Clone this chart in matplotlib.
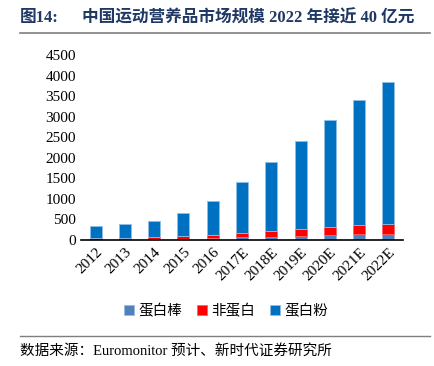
import matplotlib.pyplot as plt
import numpy as np

years = ['2012', '2013', '2014', '2015', '2016', '2017E', '2018E', '2019E', '2020E', '2021E', '2022E']
bar = [10, 15, 20, 30, 45, 70, 80, 105, 120, 135, 145]
non_protein = [45, 45, 45, 60, 70, 92, 130, 162, 188, 230, 245]
powder = [275, 330, 405, 560, 825, 1238, 1680, 2148, 2617, 3035, 3460]

serif = ['Liberation Serif', 'Noto Sans CJK SC']
plt.rcParams['font.family'] = serif

fig = plt.figure(figsize=(4.34, 3.66), dpi=100)
ax = fig.add_axes([81 / 434, 1 - 240 / 366, 322 / 434, 185 / 366])

x = np.arange(len(years))
w = 0.41
ax.bar(x, bar, w, color='#4F81BD', edgecolor='#9DB9E0', linewidth=0.6, label='蛋白棒')
b2 = np.array(bar)
ax.bar(x, non_protein, w, bottom=b2, color='#FF0000', edgecolor='#FF6060', linewidth=0.6, label='非蛋白')
b3 = b2 + np.array(non_protein)
ax.bar(x, powder, w, bottom=b3, color='#0070C0', edgecolor='#8FBFE6', linewidth=0.6, label='蛋白粉')

ax.set_xlim(-0.5, 10.5)
ax.set_ylim(0, 4500)
ax.set_yticks(range(0, 4501, 500))
ax.set_xticks(x)
ax.set_xticklabels(years, rotation=45, ha='right', rotation_mode='anchor')
ax.tick_params(length=0, labelsize=11)
ax.tick_params(axis='x', pad=4)
for s in ['top', 'right', 'left']:
    ax.spines[s].set_visible(False)
ax.spines['bottom'].set_linewidth(1.2)

leg = fig.legend(loc='center', bbox_to_anchor=(226 / 434, 1 - 311 / 366), ncol=3, frameon=False,
                 fontsize=10.5, handlelength=0.7, handleheight=0.7, handletextpad=0.3, columnspacing=1.0)

fig.text(20 / 434, 1 - 18 / 366, '图14:', fontsize=12, fontweight='bold', color='#1F3864',
         va='center', family=serif)
fig.text(82 / 434, 1 - 18 / 366, '中国运动营养品市场规模 2022 年接近 40 亿元', fontsize=12, fontweight='bold',
         color='#1F3864', va='center', family=serif)
fig.add_artist(plt.Line2D([20 / 434, 430 / 434], [1 - 33 / 366, 1 - 33 / 366], color='#7F7F7F', lw=1.2))
fig.add_artist(plt.Line2D([20 / 434, 430 / 434], [1 - 336 / 366, 1 - 336 / 366], color='#7F7F7F', lw=1.0))
fig.text(20 / 434, 1 - 351 / 366, '数据来源：Euromonitor 预计、新时代证券研究所', fontsize=10.5, va='center',
         family=serif)

fig.savefig('out.png', dpi=100)
